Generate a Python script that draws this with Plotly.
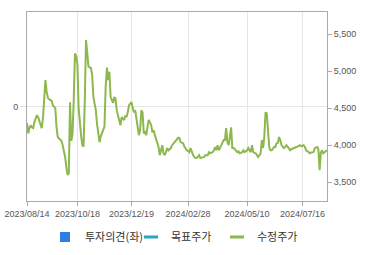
import pandas as pd
import plotly.graph_objects as go

# Korean market holidays used to build the trading-day category axis
holidays = ["2023-08-15", "2023-09-28", "2023-09-29", "2023-10-02", "2023-10-03",
            "2023-10-09", "2023-12-25", "2023-12-29", "2024-01-01", "2024-02-09",
            "2024-02-12", "2024-03-01", "2024-04-10", "2024-05-01", "2024-05-06",
            "2024-05-15", "2024-06-06", "2024-08-15"]

# 수정주가 (adjusted price), one value per trading day from 2023/08/14
price = [
    4300, 4160, 4230, 4270, 4240, 4230, 4310, 4360, 4405, 4380,
    4320, 4290, 4230, 4365, 4570, 4880, 4720, 4640, 4620, 4610,
    4600, 4540, 4520, 4500, 4250, 4110, 4090, 4070, 4060, 4000,
    3920, 3840, 3700, 3600, 3620, 4580, 4060, 4150, 4600, 5240,
    5200, 5100, 4500, 4250, 4130, 4000, 3980, 4600, 5420, 5250,
    5060, 5050, 5040, 4950, 4650, 4560, 4470, 4280, 4150, 4040,
    4120, 4160, 4200, 4250, 4800, 5050, 4880, 4990, 4650, 4620,
    4570, 4650, 4630, 4470, 4390, 4320, 4270, 4380, 4350, 4340,
    4400, 4380, 4450, 4540, 4560, 4580, 4500, 4445, 4470, 4340,
    4270, 4135, 4200, 4470, 4445, 4160, 4175, 4135, 4245, 4340,
    4310, 4270, 4175, 4200, 4135, 4080, 4040, 3975, 3865, 3960,
    4000, 3890, 3865, 3905, 3960, 3930, 3945, 3960, 4000, 4020,
    4040, 4070, 4095, 4100, 4095, 4040, 4030, 4025, 3980, 3950,
    3930, 3920, 3905, 3960, 3905, 3870, 3840, 3825, 3825, 3850,
    3865, 3825, 3830, 3825, 3840, 3865, 3860, 3865, 3905, 3890,
    3900, 3905, 3930, 3975, 3930, 4000, 3930, 3970, 4000, 4025,
    4070, 4070, 4230, 4040, 4000, 4110, 4240, 3960, 3960, 3945,
    3930, 3905, 3915, 3890, 3895, 3905, 3930, 3905, 3915, 3930,
    3960, 3940, 3905, 4000, 3905, 3895, 3890, 3865, 3840, 3860,
    3890, 4070, 3960, 4110, 4445, 4430, 4110, 3975, 3930, 3930,
    3950, 3975, 3975, 4025, 4030, 4110, 4070, 4000, 3980, 3960,
    3975, 4000, 3980, 3960, 3930, 3945, 3955, 3960, 3975, 3975,
    3980, 3985, 4000, 3985, 3990, 4000, 3975, 3930, 3920, 3905,
    3890, 3900, 3905, 3905, 3960, 3970, 3975, 3940, 3660, 3900,
    3930, 3890, 3905, 3920, 3930,
]

tick_labels = ["2023/08/14", "2023/10/18", "2023/12/19", "2024/02/28", "2024/05/10", "2024/07/16"]
right_ticks = [3500, 4000, 4500, 5000, 5500]
legend_names = ["투자의견(좌)", "목표주가", "수정주가"]

dates = pd.bdate_range("2023-08-14", periods=len(price), freq="C", holidays=holidays)
date_labels = [d.strftime("%Y/%m/%d") for d in dates]

GREEN = "#8cb84e"
BLUE = "#2f80de"
TEAL = "#28a8bf"

fig = go.Figure()
# legend-only entries
fig.add_trace(go.Scatter(x=[None], y=[None], mode="markers", name=legend_names[0],
                         marker=dict(symbol="square", size=10, color=BLUE), yaxis="y"))
fig.add_trace(go.Scatter(x=[None], y=[None], mode="markers", name=legend_names[1],
                         marker=dict(symbol="line-ew", size=10, line=dict(width=3, color=TEAL)),
                         yaxis="y2"))
fig.add_trace(go.Scatter(x=[None], y=[None], mode="markers", name=legend_names[2],
                         marker=dict(symbol="line-ew", size=10, line=dict(width=3, color=GREEN)),
                         yaxis="y2"))
# actual price line
fig.add_trace(go.Scatter(x=date_labels, y=price, mode="lines", showlegend=False,
                         line=dict(color=GREEN, width=2), yaxis="y2"))

tick_font = dict(family="Liberation Sans, Arial, sans-serif", size=9, color="#555555")

fig.update_layout(
    width=370, height=255,
    margin=dict(l=27, r=43, t=12, b=54, autoexpand=False),
    paper_bgcolor="white", plot_bgcolor="white",
    showlegend=True,
    legend=dict(orientation="h", x=0.49, xanchor="center", y=-0.19, yanchor="middle",
                entrywidth=41, entrywidthmode="pixels",
                font=dict(family="Noto Sans CJK KR", size=11, color="#333333"),
                itemclick=False, itemdoubleclick=False, tracegroupgap=0,
                bgcolor="rgba(0,0,0,0)"),
    xaxis=dict(type="category", range=[0, len(price) - 1], tickmode="array",
               tickvals=tick_labels, ticktext=tick_labels, tickangle=0,
               showgrid=True, gridcolor="#e6e6e6", gridwidth=1,
               showline=True, linecolor="#aaaaaa", linewidth=1, mirror=True,
               ticks="outside", ticklen=4, tickcolor="#aaaaaa",
               tickfont=tick_font, automargin=False, zeroline=False),
    yaxis=dict(range=[-1, 1], tickmode="array", tickvals=[0], ticktext=["0"],
               showgrid=True, gridcolor="#e6e6e6", zeroline=False,
               showline=True, linecolor="#aaaaaa", linewidth=1,
               ticks="outside", ticklen=6, tickcolor="#dddddd",
               tickfont=tick_font, automargin=False, fixedrange=True),
    yaxis2=dict(overlaying="y", side="right", range=[3245, 5800],
                tickmode="array", tickvals=right_ticks, tickformat=",",
                showgrid=False, zeroline=False,
                showline=True, linecolor="#aaaaaa", linewidth=1,
                ticks="outside", ticklen=4, tickcolor="#aaaaaa",
                tickfont=tick_font, automargin=False),
)

fig.write_html("out.html")
